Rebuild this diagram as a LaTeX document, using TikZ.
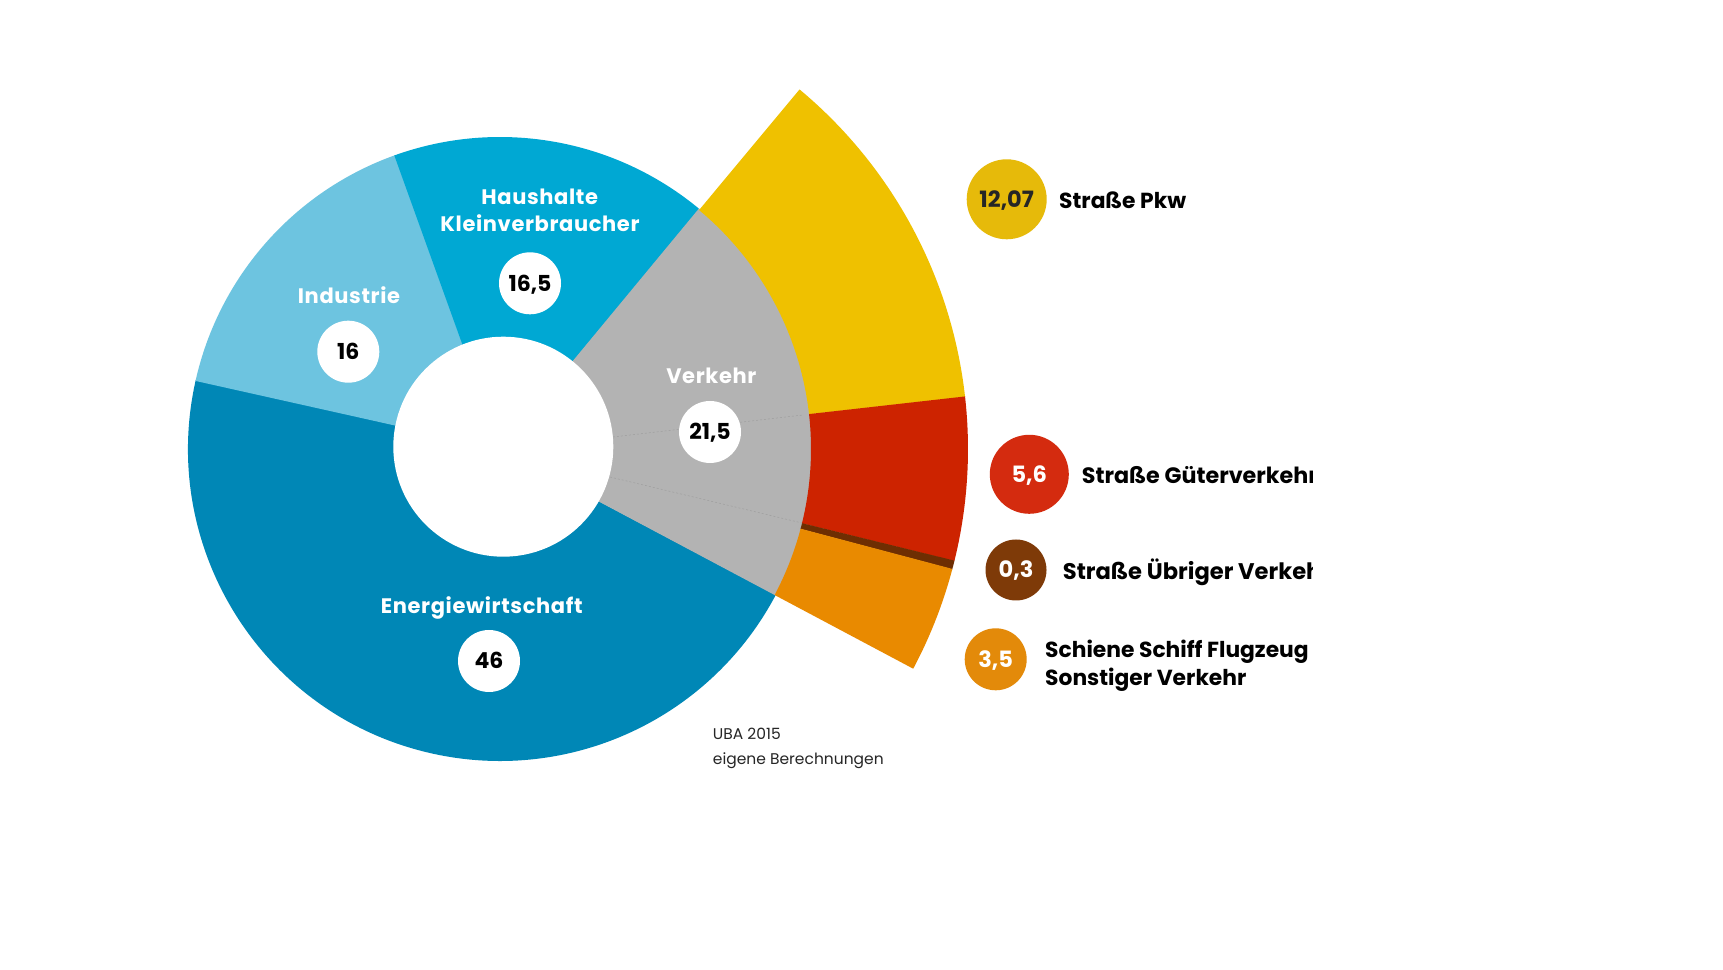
\documentclass[tikz,border=0pt]{standalone}
\usepackage{fontspec}
\setmainfont{Poppins}
\definecolor{cEnergie}{HTML}{0087B6}
\definecolor{cHaus}{HTML}{00A8D3}
\definecolor{cInd}{HTML}{6DC4E0}
\definecolor{cVerk}{HTML}{B3B3B3}
\definecolor{cGelb}{HTML}{EFC100}
\definecolor{cRot}{HTML}{CD2300}
\definecolor{cBraun}{HTML}{6E2E02}
\definecolor{cOrange}{HTML}{E98A00}
\definecolor{lGelb}{HTML}{E6BA0A}
\definecolor{lRot}{HTML}{D42B0F}
\definecolor{lBraun}{HTML}{7E3A08}
\definecolor{lOrange}{HTML}{E38A0A}
\newcommand\pieslice[4]{\fill[#1] (C) -- ([shift={(#2:#4)}]C) arc[start angle=#2, end angle=#3, radius=#4] -- cycle;}
\newcommand\annsect[5]{\fill[#1] ([shift={(#2:#4)}]C) -- ([shift={(#2:#5)}]C) arc[start angle=#2, end angle=#3, radius=#5] -- ([shift={(#3:#4)}]C) arc[start angle=#3, end angle=#2, radius=#4] -- cycle;}
\tikzset{
  ringlbl/.style={text=white, font=\bfseries\fontsize{21}{24}\selectfont\addfontfeature{LetterSpace=3}, anchor=base, inner sep=0pt},
  numc/.style={circle, fill=white, inner sep=0pt, minimum size=62pt, text=black, font=\bfseries\fontsize{22}{26}\selectfont, text height=15.5pt, text depth=0pt},
  legtxt/.style={text=black, font=\bfseries\fontsize{22.6}{27}\selectfont, anchor=base west, inner sep=0pt},
  legtxtm/.style={legtxt, font=\bfseries\fontsize{22.25}{27}\selectfont},
  legtxtb/.style={legtxt, font=\bfseries\fontsize{21.8}{27}\selectfont},
  legc/.style={circle, inner sep=0pt, font=\bfseries\fontsize{22.5}{27}\selectfont, text height=16pt, text depth=0pt},
  srctxt/.style={text=black!85, font=\fontsize{15.5}{19}\selectfont, anchor=base west, inner sep=0pt},
  seam/.style={draw=black!38, line width=0.5pt, dash pattern=on 2pt off 2pt}
}
\begin{document}
\begin{tikzpicture}[x=1pt, y=1pt]
\useasboundingbox (0,0) rectangle (1723,969);
\fill[white] (0,0) rectangle (1723,969);
\coordinate (C) at (500,520);
\coordinate (H) at (503.3,522.3);
% main ring
\pieslice{cEnergie}{167.2}{332.1}{312}
\pieslice{cInd}{109.6}{167.4}{312}
\pieslice{cHaus}{50.2}{109.8}{312}
\pieslice{cVerk}{-28}{50.4}{312}
% Verkehr breakdown
\annsect{cGelb}{6.4}{50.2}{311}{468}
\annsect{cRot}{-13.85}{6.45}{311}{468}
\annsect{cBraun}{-14.9}{-13.8}{311}{468}
\annsect{cOrange}{-28}{-14.85}{311}{468}
% hole
\fill[white] (H) circle[radius=110];
% faint sub-division lines in the grey sector
\coordinate (s1a) at (613,532);
\coordinate (s1b) at (803,554);
\coordinate (s2a) at (610,492);
\coordinate (s2b) at (802,446);
\draw[seam] (s1a) -- (s1b);
\draw[seam] (s2a) -- (s2b);
% ring labels
\node[ringlbl] (haus1) at (539.7,764) {Haushalte};
\node[ringlbl] (haus2) at (540,737) {Kleinverbraucher};
\node[numc] (n165) at (530,685.7) {16,5};
\node[ringlbl] (ind) at (349,665.7) {Industrie};
\node[numc] (n16) at (348.3,617.3) {16};
\node[ringlbl] (verk) at (711.3,585.7) {Verkehr};
\node[numc] (n215) at (710,537) {21,5};
\node[ringlbl] (energ) at (481.7,355.7) {Energiewirtschaft};
\node[numc] (n46) at (489,308) {46};
% legend
\node[legc, fill=lGelb, minimum size=80pt, text=black!85] (l1207) at (1006.7,769.7) {12,07};
\node[legc, fill=lRot, minimum size=79pt, text=white] (l56) at (1029.3,494.7) {5,6};
\node[legc, fill=lBraun, minimum size=61pt, text=white] (l03) at (1016,399) {0,3};
\node[legc, fill=lOrange, minimum size=62pt, text=white] (l35) at (995.7,309.7) {3,5};
\begin{scope}
\clip (1040,0) rectangle (1312,969);
\node[legtxtb] (t1) at (1059,760) {Straße Pkw};
\node[legtxtm] (t2) at (1081.7,485.7) {Straße Güterverkehr};
\node[legtxt] (t3) at (1062.7,389.7) {Straße Übriger Verkehr};
\node[legtxtb] (t4) at (1045,311.3) {Schiene Schiff Flugzeug};
\node[legtxtb] (t5) at (1045,283) {Sonstiger Verkehr};
\end{scope}
% source
\node[srctxt] (src1) at (712.7,229) {UBA 2015};
\node[srctxt] (src2) at (712.7,204) {eigene Berechnungen};
\end{tikzpicture}
\end{document}
